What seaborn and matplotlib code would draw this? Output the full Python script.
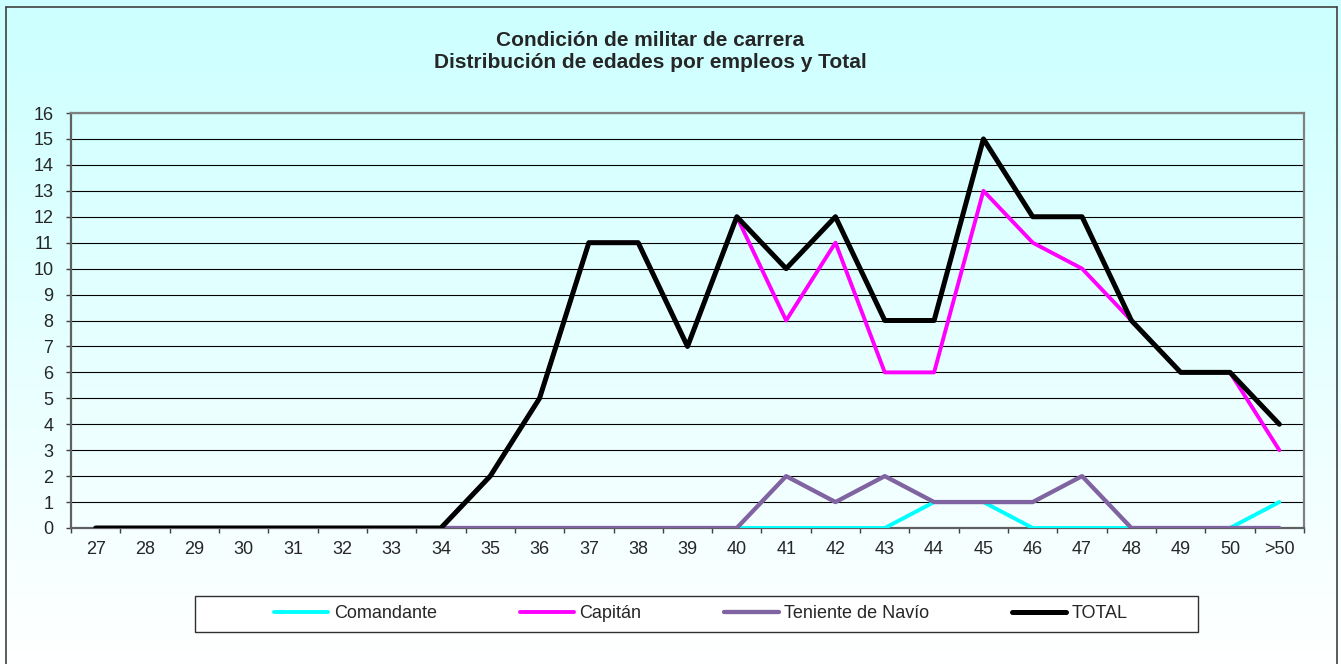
import numpy as np
import pandas as pd
import matplotlib
matplotlib.use('Agg')
import matplotlib.pyplot as plt
import seaborn as sns
from matplotlib.lines import Line2D
from matplotlib.patches import Rectangle

nan = np.nan

edades = ['27', '28', '29', '30', '31', '32', '33', '34', '35', '36', '37', '38', '39',
          '40', '41', '42', '43', '44', '45', '46', '47', '48', '49', '50', '>50']

comandante = [nan] * 7 + [0, 0, 0, 0, 0, 0, 0, 0, 0, 0, 1, 1, 0, 0, 0, 0, 0, 1]
capitan = [nan] * 7 + [0, 2, 5, 11, 11, 7, 12, 8, 11, 6, 6, 13, 11, 10, 8, 6, 6, 3]
teniente = [nan] * 7 + [0, 0, 0, 0, 0, 0, 0, 2, 1, 2, 1, 1, 1, 2, 0, 0, 0, 0]
total = [0, 0, 0, 0, 0, 0, 0, 0, 2, 5, 11, 11, 7, 12, 10, 12, 8, 8, 15, 12, 12, 8, 6, 6, 4]

series = ['Comandante', 'Capitán', 'Teniente de Navío', 'TOTAL']
colores = ['#00FFFF', '#FF00FF', '#8064A2', '#000000']
grosores = [2.8, 2.8, 3.1, 3.6]

df = pd.DataFrame({'pos': range(len(edades)), 'edad': edades,
                   'Comandante': comandante, 'Capitán': capitan,
                   'Teniente de Navío': teniente, 'TOTAL': total})
largo = df.melt(id_vars=['pos', 'edad'], value_vars=series,
                var_name='serie', value_name='valor').dropna()

sns.set_style('white')
plt.rcParams['font.family'] = ['Liberation Sans', 'DejaVu Sans']

fig = plt.figure(figsize=(13.41, 6.64), dpi=100)
W, H = 1341, 664

# fondo degradado
bg = fig.add_axes([0, 0, 1, 1], zorder=-10)
grad = np.linspace(0, 1, 256).reshape(-1, 1)
cmap = matplotlib.colors.LinearSegmentedColormap.from_list('fondo', ['#CCFFFF', '#FFFFFF'])
bg.imshow(grad, aspect='auto', cmap=cmap, extent=[0, 1, 0, 1], origin='upper')
bg.set_axis_off()

# marco exterior (sin borde inferior)
for xs, ys in [([5.5, 5.5], [0, 657]), ([5.5, 1337], [657, 657]), ([1337, 1337], [0, 657])]:
    fig.add_artist(Line2D([x / W for x in xs], [y / H for y in ys], color='#404040', lw=1.2))

ax = fig.add_axes([71 / W, 1 - 528 / H, (1304 - 71) / W, (528 - 113) / H])
ax.set_facecolor('none')

for s, c, lw in zip(series, colores, grosores):
    sns.lineplot(data=largo[largo['serie'] == s], x='pos', y='valor', color=c,
                 linewidth=lw, ax=ax, legend=False, solid_capstyle='round',
                 solid_joinstyle='round', zorder=3)

ax.set_xlim(-0.5, len(edades) - 0.5)
ax.set_ylim(0, 16)
ax.set_yticks(range(0, 17))
ax.set_xticks(range(len(edades)))
ax.set_xticklabels(edades)
ax.set_xticks(np.arange(-0.5, len(edades), 1), minor=True)
ax.set_xlabel('')
ax.set_ylabel('')
ax.yaxis.grid(True, color='black', linewidth=0.8)
ax.set_axisbelow(True)
ax.tick_params(axis='y', which='major', left=True, length=3.6, width=1, color='#404040',
               direction='out', pad=9, labelsize=13)
ax.tick_params(axis='x', which='major', bottom=False, length=0, pad=9, labelsize=13)
ax.tick_params(axis='x', which='minor', bottom=True, length=3.6, width=1, color='#404040',
               direction='out')
for sp in ax.spines.values():
    sp.set_color('#808080')
    sp.set_linewidth(1.6)
ax.spines['left'].set_color('#606060')
ax.spines['bottom'].set_color('#606060')

fig.text(650 / W, 1 - 40 / H, 'Condición de militar de carrera', ha='center', va='center',
         fontsize=15, fontweight='bold')
fig.text(650 / W, 1 - 62 / H, 'Distribución de edades por empleos y Total', ha='center',
         va='center', fontsize=15, fontweight='bold')

# leyenda
fig.add_artist(Rectangle((195 / W, 1 - 632 / H), (1198 - 195) / W, 36 / H,
                         transform=fig.transFigure, facecolor='white', edgecolor='#303030',
                         lw=1.0, zorder=1))
handles = [Line2D([], [], color=c, lw=lw, solid_capstyle='round') for c, lw in zip(colores, grosores)]
fig.legend(handles, series, loc='center', bbox_to_anchor=(701 / W, 1 - 614 / H),
           ncol=4, frameon=False, fontsize=13, handlelength=3.0, handletextpad=0.3,
           columnspacing=4.6)

plt.savefig('out.png', dpi=100)
